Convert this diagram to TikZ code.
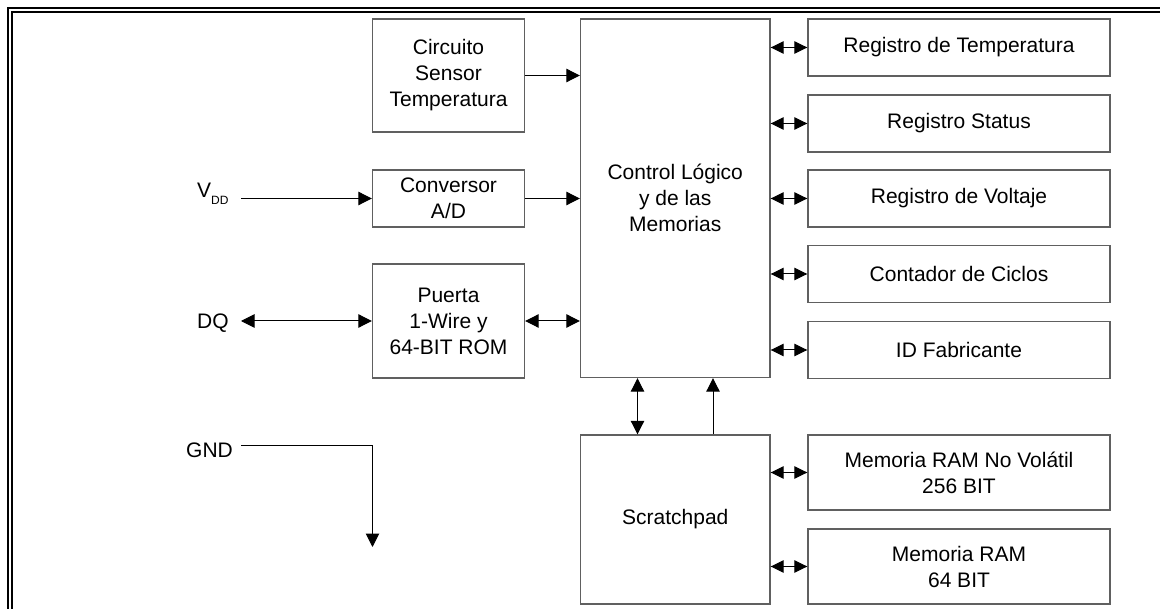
\documentclass[tikz,border=0pt]{standalone}
\usepackage{fontspec}
\setmainfont{Liberation Sans}
\usetikzlibrary{arrows.meta,calc}
\definecolor{boxline}{HTML}{606060}
\begin{document}
\begin{tikzpicture}[x=1pt,y=-1pt,
  box/.style={draw=boxline,line width=1.4pt,inner sep=0pt,align=center,
    font=\fontsize{21}{26}\selectfont},
  lbl/.style={inner sep=0pt,font=\fontsize{21}{26}\selectfont},
  arr/.style={line width=1pt,-{Triangle[length=13.5pt,width=13.5pt]}},
  arrb/.style={line width=1pt,{Triangle[length=13.5pt,width=13.5pt]}-{Triangle[length=13.5pt,width=13.5pt]}},
  arrs/.style={line width=1pt,{Triangle[length=13pt,width=12.5pt]}-{Triangle[length=13pt,width=12.5pt]}},
  frameo/.style={line width=2.6pt,line join=miter},
  framei/.style={line width=2pt,line join=miter}]
\useasboundingbox (0,0) rectangle (1160,609);
% frame
\draw[frameo] (8,620) -- (8,8) -- (1170,8);
\draw[framei] (12,620) -- (12,12) -- (1170,12);
% left blocks
\node[box,minimum width=152pt,minimum height=113pt] (sensor) at (448.5,75.5) {Circuito\\Sensor\\Temperatura};
\node[box,minimum width=152pt,minimum height=57pt] (conv) at (448.5,198.5) {Conversor\\A/D};
\node[box,minimum width=152pt,minimum height=114pt] (puerta) at (448.5,321) {Puerta\\1-Wire y\\64-BIT ROM};
% central blocks
\node[box,minimum width=189.5pt,minimum height=358.5pt] (ctrl) at (675.25,198.25) {Control L\'ogico\\y de las\\Memorias};
\node[box,minimum width=189.5pt,minimum height=169pt] (scratch) at (675.25,519.5) {Scratchpad};
% right blocks
\node[box,minimum width=302pt,minimum height=57pt] (r1) at (959,47.5) {Registro de Temperatura};
\node[box,minimum width=302pt,minimum height=57pt] (r2) at (959,123.5) {Registro Status};
\node[box,minimum width=302pt,minimum height=57pt] (r3) at (959,198.5) {Registro de Voltaje};
\node[box,minimum width=302pt,minimum height=57pt] (r4) at (959,274) {Contador de Ciclos};
\node[box,minimum width=302pt,minimum height=57pt] (r5) at (959,350) {ID Fabricante};
\node[box,minimum width=302pt,minimum height=75pt] (m1) at (959,472.5) {Memoria RAM No Vol\'atil\\256 BIT};
\node[box,minimum width=302pt,minimum height=75pt] (m2) at (959,566.5) {Memoria RAM\\64 BIT};
% pin labels
\node[lbl,anchor=base west] (vdd) at (197,198) {V\raisebox{-6.5pt}{\fontsize{12}{12}\selectfont DD}};
\node[lbl,anchor=base west] (dq) at (197,329) {DQ};
\node[lbl,anchor=base west] (gnd) at (186,458) {GND};
\coordinate (vddL) at (241,198.5);
\coordinate (dqL) at (241,321);
\coordinate (gndL) at (241,446);
\coordinate (gndE) at (372.5,547);
\coordinate (c1) at (637.5,0);
\coordinate (c2) at (713,0);
% connectors
\draw[arr] (vddL) -- (conv.west);
\draw[arrb] (dqL) -- (puerta.west);
\draw[arr] (gndL) -| (gndE);
\draw[arr] (sensor.east) -- (sensor.east -| ctrl.west);
\draw[arr] (conv.east) -- (conv.east -| ctrl.west);
\draw[arrb] (puerta.east) -- (puerta.east -| ctrl.west);
\foreach \r in {r1,r2,r3,r4,r5}
  \draw[arrs] (\r.west -| ctrl.east) -- (\r.west);
\foreach \m in {m1,m2}
  \draw[arrs] (\m.west -| scratch.east) -- (\m.west);
\draw[arrb] (ctrl.south -| c1) -- (scratch.north -| c1);
\draw[arr] (scratch.north -| c2) -- (ctrl.south -| c2);
\end{tikzpicture}
\end{document}
